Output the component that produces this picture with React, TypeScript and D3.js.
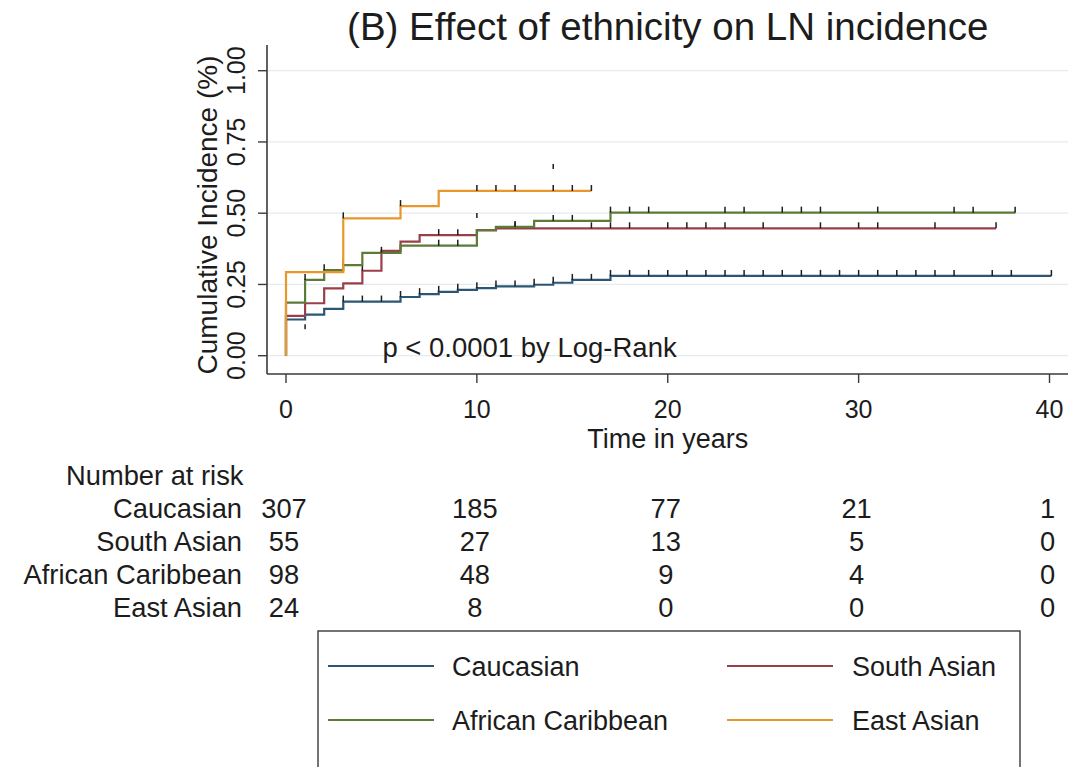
import React from "react";
import * as d3 from "d3";

// ---------- data ----------
const seriesNames = ["Caucasian", "South Asian", "African Caribbean", "East Asian"];
const seriesColors = ["#2b5674", "#9a3f49", "#5b7b37", "#e8972b"];

const caucasianTimes = [0, 1, 2, 3, 6, 7, 8, 9, 10, 11, 13, 14, 15, 17];
const caucasianValues = [0.127, 0.144, 0.164, 0.19, 0.206, 0.216, 0.224, 0.231, 0.237, 0.243, 0.249, 0.256, 0.266, 0.28];
const caucasianEnd = 40.1;
const caucasianCensor = [3, 4, 5, 6, 7, 8, 9, 10, 11, 12, 13, 14, 15, 16, 17, 18, 19, 20, 21, 22, 23, 24, 25, 26, 27, 28, 29, 30, 31, 32, 33, 34, 35, 37, 38, 40.1];

const southAsianTimes = [0, 1, 2, 3, 4, 5, 6, 7, 10, 11];
const southAsianValues = [0.14, 0.184, 0.236, 0.254, 0.298, 0.368, 0.4, 0.423, 0.44, 0.447];
const southAsianEnd = 37.2;
const southAsianCensor = [4, 8, 9, 12, 13, 16, 17, 18, 20, 21, 22, 23, 25, 28, 30, 31, 34, 37.2];

const africanCaribbeanTimes = [0, 1, 2, 3, 4, 6, 10, 11, 13, 17];
const africanCaribbeanValues = [0.186, 0.266, 0.3, 0.318, 0.361, 0.386, 0.441, 0.452, 0.473, 0.502];
const africanCaribbeanEnd = 38.2;
const africanCaribbeanCensor = [1, 2, 3, 5, 8, 9, 12, 14, 15, 17, 18, 19, 23, 24, 26, 27, 28, 31, 35, 36, 38.2];

const eastAsianTimes = [0, 3, 6, 8];
const eastAsianValues = [0.293, 0.482, 0.525, 0.578];
const eastAsianEnd = 16;
const eastAsianCensor = [3, 6, 10, 11, 12, 14, 15, 16];

// stray censor marks visible off the curves [time, value]
const strayMarks: [number, number][] = [[14, 0.655], [10, 0.483], [1, 0.093]];

const yTicks = [0, 0.25, 0.5, 0.75, 1];
const yTickLabels = ["0.00", "0.25", "0.50", "0.75", "1.00"];
const xTicks = [0, 10, 20, 30, 40];

const riskTimes = [0, 10, 20, 30, 40];
const riskCaucasian = [307, 185, 77, 21, 1];
const riskSouthAsian = [55, 27, 13, 5, 0];
const riskAfricanCaribbean = [98, 48, 9, 4, 0];
const riskEastAsian = [24, 8, 0, 0, 0];

const titleText = "(B) Effect of ethnicity on LN incidence";
const yTitle = "Cumulative Incidence (%)";
const xTitle = "Time in years";
const pText = "p < 0.0001 by Log-Rank";

// ---------- layout ----------
const W = 1076;
const H = 767;
const FONT = "'Liberation Sans', Arial, Helvetica, sans-serif";
const TXT = "#1c1c1c";

const x = d3.scaleLinear().domain([0, 40]).range([286, 1049.5]);
const y = d3.scaleLinear().domain([0, 1]).range([355.7, 70.7]);
const axisLeft = 267;
const axisBottom = 374;
const plotRight = 1068;
const plotTop = 45;

type Series = { name: string; color: string; times: number[]; values: number[]; end: number; censor: number[] };

const series: Series[] = [
  { name: seriesNames[0], color: seriesColors[0], times: caucasianTimes, values: caucasianValues, end: caucasianEnd, censor: caucasianCensor },
  { name: seriesNames[1], color: seriesColors[1], times: southAsianTimes, values: southAsianValues, end: southAsianEnd, censor: southAsianCensor },
  { name: seriesNames[2], color: seriesColors[2], times: africanCaribbeanTimes, values: africanCaribbeanValues, end: africanCaribbeanEnd, censor: africanCaribbeanCensor },
  { name: seriesNames[3], color: seriesColors[3], times: eastAsianTimes, values: eastAsianValues, end: eastAsianEnd, censor: eastAsianCensor },
];

const riskRows = [
  { name: seriesNames[0], vals: riskCaucasian },
  { name: seriesNames[1], vals: riskSouthAsian },
  { name: seriesNames[2], vals: riskAfricanCaribbean },
  { name: seriesNames[3], vals: riskEastAsian },
];

const lineGen = d3
  .line<[number, number]>()
  .x((d) => x(d[0]))
  .y((d) => y(d[1]))
  .curve(d3.curveStepAfter);

function valueAt(s: Series, t: number) {
  const i = Math.max(0, d3.bisectRight(s.times, t) - 1);
  return s.values[i];
}

export default function App() {
  const tickH = 6;
  return (
    <svg
      width={W}
      height={H}
      viewBox={`0 0 ${W} ${H}`}
      style={{ position: "absolute", left: 0, top: 0, background: "#fff" }}
      fontFamily={FONT}
    >
      <rect x={0} y={0} width={W} height={H} fill="#fff" />
      {/* title */}
      <text x={x(20)} y={40} textAnchor="middle" fontSize={38.5} fill={TXT}>
        {titleText}
      </text>

      {/* grid */}
      {yTicks.map((v) => (
        <line key={"g" + v} x1={axisLeft} x2={plotRight} y1={y(v)} y2={y(v)} stroke="#e6ebee" strokeWidth={1.2} />
      ))}

      {/* axes */}
      <line x1={axisLeft} x2={axisLeft} y1={plotTop} y2={axisBottom} stroke="#3a3a3a" strokeWidth={1.6} />
      <line x1={axisLeft} x2={plotRight} y1={axisBottom} y2={axisBottom} stroke="#3a3a3a" strokeWidth={1.6} />
      {yTicks.map((v, i) => (
        <g key={"yt" + v}>
          <line x1={axisLeft - 9} x2={axisLeft} y1={y(v)} y2={y(v)} stroke="#3a3a3a" strokeWidth={1.4} />
          <text
            transform={`translate(245,${y(v)}) rotate(-90)`}
            textAnchor="middle"
            fontSize={25}
            fill={TXT}
          >
            {yTickLabels[i]}
          </text>
        </g>
      ))}
      {xTicks.map((t) => (
        <g key={"xt" + t}>
          <line x1={x(t)} x2={x(t)} y1={axisBottom} y2={axisBottom + 9} stroke="#3a3a3a" strokeWidth={1.4} />
          <text x={x(t)} y={418} textAnchor="middle" fontSize={25} fill={TXT}>
            {t}
          </text>
        </g>
      ))}
      <text transform={`translate(217,215) rotate(-90)`} textAnchor="middle" fontSize={28} fill={TXT}>
        {yTitle}
      </text>
      <text x={x(20)} y={448} textAnchor="middle" fontSize={27} fill={TXT}>
        {xTitle}
      </text>

      {/* curves */}
      {series.map((s) => {
        const pts: [number, number][] = [[0, 0], ...s.times.map((t, i) => [t, s.values[i]] as [number, number]), [s.end, s.values[s.values.length - 1]]];
        return (
          <g key={s.name}>
            <path d={lineGen(pts) || ""} fill="none" stroke={s.color} strokeWidth={2.2} />
            {s.censor.map((t, i) => {
              const v = valueAt(s, t);
              return (
                <line key={i} x1={x(t)} x2={x(t)} y1={y(v)} y2={y(v) - tickH} stroke="#1e1e1e" strokeWidth={1.5} />
              );
            })}
          </g>
        );
      })}
      {strayMarks.map((m, i) => (
        <line key={"s" + i} x1={x(m[0])} x2={x(m[0])} y1={y(m[1])} y2={y(m[1]) - 5} stroke="#1e1e1e" strokeWidth={1.5} />
      ))}

      {/* p-value */}
      <text x={x(5.05)} y={y(0) + 1} fontSize={27.5} fill={TXT}>
        {pText}
      </text>

      {/* number at risk */}
      <text x={66} y={485} fontSize={27.3} fill={TXT}>
        Number at risk
      </text>
      {riskRows.map((r, ri) => (
        <g key={r.name}>
          <text x={242} y={518 + ri * 33} textAnchor="end" fontSize={27.3} fill={TXT}>
            {r.name}
          </text>
          {r.vals.map((v, i) => (
            <text key={i} x={x(riskTimes[i]) - 2} y={518 + ri * 33} textAnchor="middle" fontSize={27.3} fill={TXT}>
              {v}
            </text>
          ))}
        </g>
      ))}

      {/* legend */}
      <rect x={318} y={631} width={702} height={140} fill="#fff" stroke="#3a3a3a" strokeWidth={1.4} />
      {series.map((s, i) => {
        const col = i % 2;
        const row = Math.floor(i / 2);
        const lx = col === 0 ? 328 : 727;
        const tx = col === 0 ? 452 : 852;
        const ly = 666 + row * 54;
        return (
          <g key={"lg" + s.name}>
            <line x1={lx} x2={lx + 106} y1={ly} y2={ly} stroke={s.color} strokeWidth={2.2} />
            <text x={tx} y={ly + 10} fontSize={27} fill={TXT}>
              {s.name}
            </text>
          </g>
        );
      })}
    </svg>
  );
}
